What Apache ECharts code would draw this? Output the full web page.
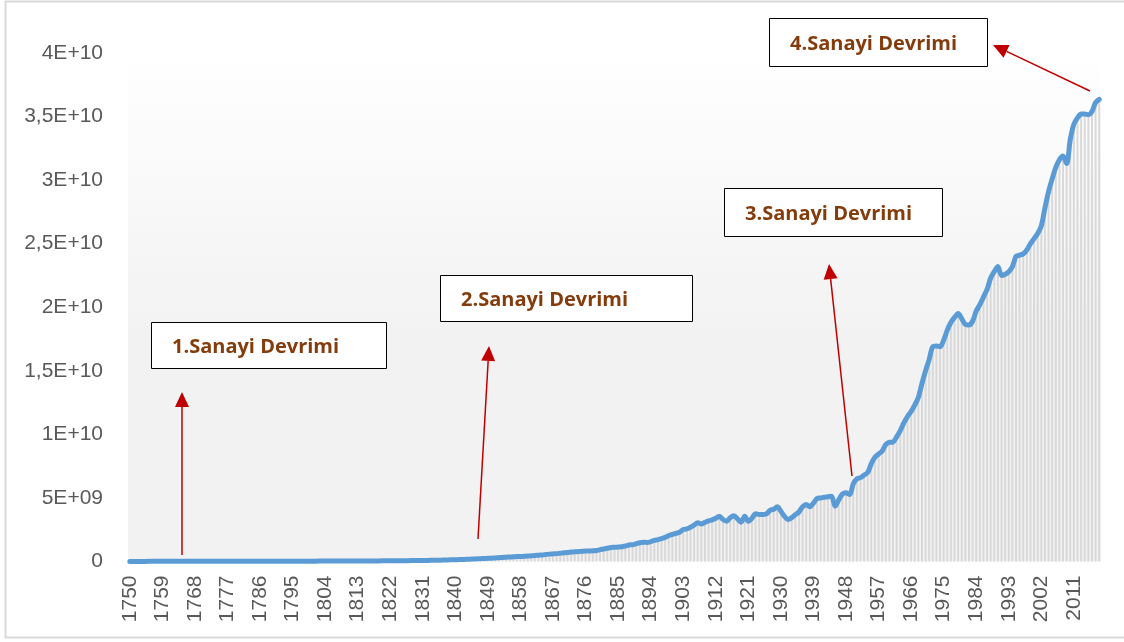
<!DOCTYPE html>
<html>
<head>
<meta charset="utf-8">
<script src="https://cdn.jsdelivr.net/npm/echarts@6/dist/echarts.min.js"></script>
<style>
  html, body { margin: 0; padding: 0; background: #ffffff; }
  #chart { width: 1124px; height: 642px; }
</style>
</head>
<body>
<div id="chart"></div>
<script>
// years 1750 .. 2018
var firstYear = 1750;
var lastYear = 2018;

// emissions, billions of tonnes (axis labels are written as E+ numbers)
var emissions = [
  // 1750s
  0.009, 0.009, 0.009, 0.009, 0.009, 0.010, 0.010, 0.010, 0.010, 0.010,
  // 1760s
  0.010, 0.010, 0.010, 0.010, 0.011, 0.011, 0.011, 0.011, 0.011, 0.012,
  // 1770s
  0.012, 0.012, 0.012, 0.013, 0.013, 0.013, 0.013, 0.014, 0.014, 0.014,
  // 1780s
  0.015, 0.015, 0.015, 0.016, 0.016, 0.017, 0.017, 0.018, 0.018, 0.019,
  // 1790s
  0.019, 0.020, 0.021, 0.022, 0.023, 0.024, 0.025, 0.026, 0.027, 0.027,
  // 1800s
  0.028, 0.029, 0.030, 0.031, 0.032, 0.033, 0.034, 0.035, 0.036, 0.037,
  // 1810s
  0.038, 0.039, 0.040, 0.041, 0.042, 0.043, 0.044, 0.046, 0.048, 0.049,
  // 1820s
  0.050, 0.052, 0.054, 0.057, 0.060, 0.063, 0.065, 0.068, 0.071, 0.074,
  // 1830s
  0.078, 0.082, 0.086, 0.090, 0.095, 0.100, 0.108, 0.116, 0.124, 0.132,
  // 1840s
  0.140, 0.150, 0.160, 0.170, 0.182, 0.195, 0.208, 0.220, 0.235, 0.250,
  // 1850s
  0.265, 0.280, 0.300, 0.320, 0.340, 0.355, 0.370, 0.385, 0.395, 0.410,
  // 1860s
  0.430, 0.450, 0.470, 0.500, 0.520, 0.550, 0.580, 0.600, 0.620, 0.650,
  // 1870s
  0.680, 0.700, 0.740, 0.770, 0.780, 0.800, 0.820, 0.830, 0.840, 0.860,
  // 1880s
  0.93, 0.98, 1.04, 1.10, 1.12, 1.14, 1.16, 1.22, 1.30, 1.32,
  // 1890s
  1.40, 1.48, 1.52, 1.50, 1.56, 1.66, 1.72, 1.80, 1.90, 2.04,
  // 1900s
  2.14, 2.22, 2.30, 2.52, 2.56, 2.70, 2.86, 3.05, 2.95, 3.08,
  // 1910s
  3.20, 3.28, 3.40, 3.56, 3.30, 3.17, 3.45, 3.60, 3.35, 3.09,
  // 1920s
  3.56, 3.17, 3.40, 3.75, 3.70, 3.69, 3.75, 4.03, 4.10, 4.30,
  // 1930s
  3.95, 3.55, 3.30, 3.45, 3.69, 3.90, 4.30, 4.48, 4.30, 4.60,
  // 1940s
  4.95, 5.00, 5.05, 5.10, 5.13, 4.35, 4.85, 5.30, 5.40, 5.27,
  // 1950s
  6.10, 6.50, 6.60, 6.80, 7.00, 7.70, 8.20, 8.45, 8.70, 9.20,
  // 1960s
  9.38, 9.40, 9.80, 10.30, 10.90, 11.40, 11.80, 12.30, 12.90, 14.00,
  // 1970s
  15.00, 15.90, 16.90, 16.95, 16.90, 17.40, 18.20, 18.80, 19.20, 19.50,
  // 1980s
  19.10, 18.65, 18.60, 18.90, 19.70, 20.20, 20.80, 21.40, 22.30, 22.80,
  // 1990s
  23.20, 22.50, 22.60, 22.80, 23.20, 24.00, 24.10, 24.20, 24.50, 25.00,
  // 2000s
  25.40, 25.80, 26.40, 27.80, 29.10, 30.10, 31.00, 31.60, 31.90, 31.30,
  // 2010s
  33.20, 34.40, 34.90, 35.20, 35.20, 35.15, 35.40, 36.10, 36.35
];

var yTickLabels = ['0', '5E+09', '1E+10', '1,5E+10', '2E+10', '2,5E+10', '3E+10', '3,5E+10', '4E+10'];

var notes = ['1.Sanayi Devrimi', '2.Sanayi Devrimi', '3.Sanayi Devrimi', '4.Sanayi Devrimi'];

var years = [];
for (var y = firstYear; y <= lastYear; y++) years.push(String(y));

// annotation boxes and arrows (page pixels)
var boxes = [
  { x: 151, y: 322, w: 235, h: 46 },
  { x: 440, y: 275, w: 252, h: 46 },
  { x: 724, y: 188, w: 218, h: 48 },
  { x: 769, y: 18, w: 218, h: 48 }
];
var arrows = [
  [182, 555, 182, 392],
  [478, 539, 489, 346],
  [852, 476, 829, 264],
  [1090, 91, 993, 45]
];

var graphics = [
  {
    type: 'rect', z: -10, silent: true,
    shape: { x: 5.5, y: 1.5, width: 1140, height: 636 },
    style: { fill: null, stroke: '#d9d9d9', lineWidth: 2 }
  }
];

boxes.forEach(function (b, i) {
  graphics.push({
    type: 'rect', z: 50,
    shape: { x: b.x + 0.5, y: b.y + 0.5, width: b.w, height: b.h },
    style: { fill: '#ffffff', stroke: '#000000', lineWidth: 1 }
  });
  graphics.push({
    type: 'text', z: 51,
    x: b.x + 21, y: b.y + b.h / 2 + 2,
    style: {
      text: notes[i],
      fill: '#843c0c',
      font: 'bold 20px "Open Sans", "Liberation Sans", sans-serif',
      textVerticalAlign: 'middle'
    }
  });
});

arrows.forEach(function (a) {
  var dx = a[2] - a[0], dy = a[3] - a[1];
  var len = Math.sqrt(dx * dx + dy * dy);
  var ux = dx / len, uy = dy / len;
  var hl = 15, hw = 7;
  var bx = a[2] - ux * hl, by = a[3] - uy * hl;
  graphics.push({
    type: 'line', z: 40,
    shape: { x1: a[0], y1: a[1], x2: bx, y2: by },
    style: { stroke: '#c00000', lineWidth: 1.5 }
  });
  graphics.push({
    type: 'polygon', z: 40,
    shape: { points: [[a[2], a[3]], [bx - uy * hw, by + ux * hw], [bx + uy * hw, by - ux * hw]] },
    style: { fill: '#c00000' }
  });
});

var chart = echarts.init(document.getElementById('chart'), null, { renderer: 'canvas' });

chart.setOption({
  backgroundColor: '#ffffff',
  animation: false,
  grid: {
    left: 128, right: 23, top: 53, bottom: 80.5,
    show: true,
    borderWidth: 0,
    backgroundColor: {
      type: 'linear', x: 0, y: 0, x2: 0, y2: 1,
      colorStops: [
        { offset: 0, color: '#ffffff' },
        { offset: 0.55, color: '#f2f2f2' },
        { offset: 1, color: '#f2f2f2' }
      ]
    }
  },
  xAxis: {
    type: 'category',
    data: years,
    boundaryGap: true,
    axisLine: { show: false },
    axisTick: { show: false },
    axisLabel: {
      interval: 8,
      rotate: 90,
      margin: 14,
      color: '#595959',
      fontSize: 21,
      fontFamily: '"Liberation Sans", sans-serif'
    }
  },
  yAxis: {
    type: 'value',
    min: 0, max: 40, interval: 5,
    axisLine: { show: false },
    axisTick: { show: false },
    splitLine: { show: false },
    axisLabel: {
      margin: 25,
      color: '#595959',
      fontSize: 21,
      fontFamily: '"Liberation Sans", sans-serif',
      formatter: function (v) { return yTickLabels[Math.round(v / 5)]; }
    }
  },
  series: [
    {
      type: 'bar',
      data: emissions,
      barCategoryGap: '45%',
      itemStyle: { color: '#d9d9d9' },
      silent: true
    },
    {
      type: 'line',
      data: emissions,
      showSymbol: false,
      smooth: 0.3,
      lineStyle: { color: '#5b9bd5', width: 5, cap: 'round', join: 'round' },
      z: 5
    }
  ],
  graphic: graphics
});
</script>
</body>
</html>
